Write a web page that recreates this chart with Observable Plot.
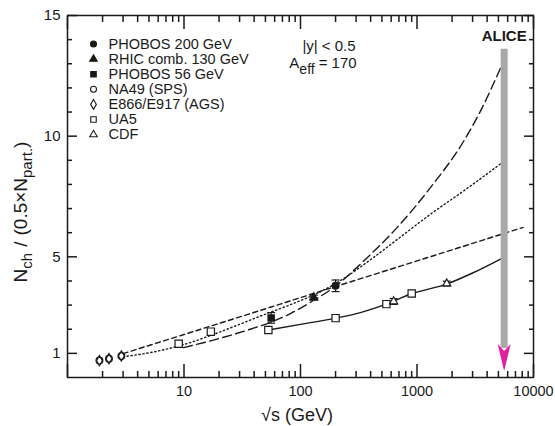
<!DOCTYPE html>
<html><head><meta charset="utf-8">
<script src="https://cdn.jsdelivr.net/npm/d3@7"></script>
<script src="https://cdn.jsdelivr.net/npm/@observablehq/plot@0.6"></script>
<style>
body{margin:0;background:#fff;}
#chart{width:555px;height:426px;}
</style></head><body><div id="chart"></div>
<script>
// ---- axis ticks ----
const xMajorTicks = [1, 10, 100, 1000, 10000];
const xTickLabels = [10, 100, 1000, 10000];
const xMinorTicks = [2,3,4,5,6,7,8,9,20,30,40,50,60,70,80,90,200,300,400,500,600,700,800,900,2000,3000,4000,5000,6000,7000,8000,9000];
const yMajorTicks = [1, 5, 10, 15];
const yMinorTicks = [2,3,4,6,7,8,9,11,12,13,14];

// ---- data points ----
const agsX = [1.88, 2.27, 2.9];
const agsY = [0.70, 0.78, 0.89];
const na49X = [1.88, 2.27, 2.9];
const na49Y = [0.70, 0.78, 0.89];
const ua5X = [9, 17, 53, 200, 546, 900];
const ua5Y = [1.40, 1.90, 1.97, 2.46, 3.04, 3.48];
const cdfX = [630, 1800];
const cdfY = [3.15, 3.89];
const cdfErr = [0.12, 0.10];
const phobos200X = [200];
const phobos200Y = [3.80];
const phobos200Err = [0.24];
const rhic130X = [130];
const rhic130Y = [3.31];
const rhic130Err = [0.10];
const phobos56X = [56];
const phobos56Y = [2.47];
const phobos56Err = [0.22];

// ---- curves ----
const solidX = [53, 100, 200, 327, 550, 874, 1820, 3000, 5410];
const solidY = [1.97, 2.20, 2.46, 2.69, 3.05, 3.45, 3.88, 4.33, 4.95];
const longDashX = [9.9, 19.2, 37, 55, 82, 130, 193, 349, 677, 1309, 2530, 3523, 5410];
const longDashY = [1.24, 1.59, 2.0, 2.28, 2.65, 3.2, 3.73, 4.83, 6.22, 7.88, 9.81, 11.06, 13.0];
const dottedX = [3.0, 5.1, 9.9, 19.2, 37, 55, 82, 130, 193, 425, 677, 1309, 2530, 5410];
const dottedY = [0.86, 1.03, 1.36, 1.84, 2.38, 2.7, 3.02, 3.42, 3.85, 4.98, 5.72, 6.77, 7.74, 8.91];
const shortDashX = [3.0, 10, 55, 200, 1000, 5500, 8150];
const shortDashY = [0.99, 1.78, 2.91, 3.77, 4.83, 5.96, 6.22];

// ---- ALICE ----
const aliceX = [5600];
const aliceTop = [13.6];
const aliceBottom = [1.2];
const aliceTip = [0.27];

// ---- legend ----
const legendLabels = ["PHOBOS 200 GeV", "RHIC comb. 130 GeV", "PHOBOS 56 GeV", "NA49 (SPS)", "E866/E917 (AGS)", "UA5", "CDF"];
const legendSymbols = ["circle", "triangle", "square", "circle", "diamond", "square", "triangle"];
const legendFilled = [true, true, true, false, false, false, false];

const ink = "#1a1a1a";
const font = "'Liberation Sans', Arial, Helvetica, sans-serif";

const pts = (xs, ys, es) => xs.map((x, i) => ({x, y: ys[i], e: es ? es[i] : 0}));

const capSymbol = {draw(ctx, size) { const w = Math.sqrt(size) / 2; ctx.moveTo(-w, 0); ctx.lineTo(w, 0); }};
const arrowHead = {draw(ctx) { ctx.moveTo(0, 0); ctx.lineTo(-6.5, -27); ctx.lineTo(0, -20); ctx.lineTo(6.5, -27); ctx.closePath(); }};

function errorBars(data) {
  return [
    Plot.ruleX(data, {x: "x", y1: d => d.y - d.e, y2: d => d.y + d.e, stroke: ink, strokeWidth: 1.2}),
    Plot.dot(data, {x: "x", y: d => d.y + d.e, symbol: capSymbol, r: 4.5, fill: "none", stroke: ink, strokeWidth: 1.2}),
    Plot.dot(data, {x: "x", y: d => d.y - d.e, symbol: capSymbol, r: 4.5, fill: "none", stroke: ink, strokeWidth: 1.2})
  ];
}

const curve = (xs, ys, dash, c) => Plot.line(pts(xs, ys), {x: "x", y: "y", stroke: ink, strokeWidth: 1.4, strokeDasharray: dash, curve: c});

const legendR = {circle: 3, triangle: 2.8, square: 3.1, diamond: 3.0};
const legendMarks = legendLabels.flatMap((lab, i) => [
  Plot.dot([lab], {frameAnchor: "top-left", dx: 26, dy: 28.5 + i * 15.1, symbol: legendSymbols[i], r: legendR[legendSymbols[i]],
    fill: legendFilled[i] ? ink : "white", stroke: ink, strokeWidth: 1.1}),
  Plot.text([lab], {frameAnchor: "top-left", dx: 41, dy: 28.5 + i * 15.1, text: d => d, textAnchor: "start", lineAnchor: "middle", fontSize: 14.5, fill: ink})
]);

// inward ticks on all four sides (negative tick size points into the frame)
const tickOpts = {fill: "none", label: null, stroke: ink, strokeWidth: 1.5};
const inwardTicks = [
  Plot.axisX(xMajorTicks, {anchor: "bottom", tickSize: -13, ...tickOpts}),
  Plot.axisX(xMinorTicks, {anchor: "bottom", tickSize: -6, ...tickOpts}),
  Plot.axisX(xMajorTicks, {anchor: "top", tickSize: -13, ...tickOpts}),
  Plot.axisX(xMinorTicks, {anchor: "top", tickSize: -6, ...tickOpts}),
  Plot.axisY(yMajorTicks, {anchor: "left", tickSize: -10, ...tickOpts}),
  Plot.axisY(yMinorTicks, {anchor: "left", tickSize: -5, ...tickOpts}),
  Plot.axisY(yMajorTicks, {anchor: "right", tickSize: -10, ...tickOpts}),
  Plot.axisY(yMinorTicks, {anchor: "right", tickSize: -5, ...tickOpts})
];

const svg = Plot.plot({
  width: 555, height: 426,
  marginLeft: 67, marginRight: 22, marginTop: 15, marginBottom: 49,
  style: {fontFamily: font, background: "white", color: ink},
  x: {type: "log", domain: [1, 10000]},
  y: {domain: [0, 15]},
  marks: [
    curve(shortDashX, shortDashY, "5,3.5", "linear"),
    curve(dottedX, dottedY, "1.3,2.7", "monotone-x"),
    curve(longDashX, longDashY, "9,4.5", "monotone-x"),
    curve(solidX, solidY, null, "monotone-x"),
    Plot.ruleX(aliceX.map((x, i) => ({x, y1: aliceTop[i], y2: aliceBottom[i]})), {x: "x", y1: "y1", y2: "y2", stroke: "#a9a9a9", strokeWidth: 7}),
    Plot.dot(pts(aliceX, aliceTip), {x: "x", y: "y", symbol: arrowHead, fill: "#e21fa0", stroke: "none"}),
    Plot.text(aliceX, {x: d => d, frameAnchor: "top", dy: 25, text: () => "ALICE", fontWeight: "bold", fontSize: 15, lineAnchor: "bottom", fill: ink}),
    // error bars
    ...errorBars(pts(phobos200X, phobos200Y, phobos200Err)),
    ...errorBars(pts(rhic130X, rhic130Y, rhic130Err)),
    ...errorBars(pts(phobos56X, phobos56Y, phobos56Err)),
    ...errorBars(pts(cdfX, cdfY, cdfErr)),
    // markers
    Plot.dot(pts(na49X, na49Y), {x: "x", y: "y", symbol: "circle", r: 3.4, fill: "white", stroke: ink, strokeWidth: 1.2}),
    Plot.dot(pts(agsX, agsY), {x: "x", y: "y", symbol: "diamond", r: 3.1, fill: "none", stroke: ink, strokeWidth: 1.2}),
    Plot.dot(pts(ua5X, ua5Y), {x: "x", y: "y", symbol: "square", r: 4.1, fill: "white", stroke: ink, strokeWidth: 1.2}),
    Plot.dot(pts(cdfX, cdfY), {x: "x", y: "y", symbol: "triangle", r: 3.0, fill: "white", stroke: ink, strokeWidth: 1.2}),
    Plot.dot(pts(phobos56X, phobos56Y), {x: "x", y: "y", symbol: "square", r: 3.4, fill: ink, stroke: ink}),
    Plot.dot(pts(rhic130X, rhic130Y), {x: "x", y: "y", symbol: "triangle", r: 2.8, fill: ink, stroke: ink}),
    Plot.dot(pts(phobos200X, phobos200Y), {x: "x", y: "y", symbol: "circle", r: 3.3, fill: ink, stroke: ink}),
    // legend
    ...legendMarks,
    // axes
    ...inwardTicks,
    Plot.axisX(xTickLabels, {anchor: "bottom", tickSize: 0, tickPadding: 8, label: null, fontSize: 14.5, tickFormat: d => String(d), fill: ink}),
    Plot.axisY(yMajorTicks, {anchor: "left", tickSize: 0, tickPadding: 7, label: null, fontSize: 15, tickFormat: d => String(d), fill: ink}),
    Plot.frame({stroke: ink, strokeWidth: 1.5})
  ]
});

document.getElementById("chart").append(svg);
const s = d3.select(svg);

// y-axis title with subscripts
const yl = s.append("text").attr("transform", "translate(27,212) rotate(-90)")
  .attr("font-family", font).attr("font-size", 19).attr("fill", ink).attr("text-anchor", "middle");
yl.append("tspan").text("N");
yl.append("tspan").attr("font-size", 15).attr("dy", 5).text("ch");
yl.append("tspan").attr("dy", -5).attr("dx", 6).text("/");
yl.append("tspan").attr("dx", 6).text("(0.5×N");
yl.append("tspan").attr("font-size", 15).attr("dy", 5).text("part.");
yl.append("tspan").attr("dy", -5).text(")");

// x-axis title
s.append("text").attr("x", 297).attr("y", 421).attr("text-anchor", "middle")
  .attr("font-family", font).attr("font-size", 18).attr("fill", ink).text("√s (GeV)");

// annotation
s.append("text").attr("x", 329).attr("y", 51).attr("font-family", font).attr("font-size", 15).attr("fill", ink).text("|y| < 0.5");
const ae = s.append("text").attr("x", 323).attr("y", 68).attr("font-family", font).attr("font-size", 15).attr("fill", ink);
ae.append("tspan").text("A");
ae.append("tspan").attr("font-size", 14).attr("dy", 6).text("eff");
ae.append("tspan").attr("dy", -6).attr("dx", 4).text("= 170");
</script></body></html>
